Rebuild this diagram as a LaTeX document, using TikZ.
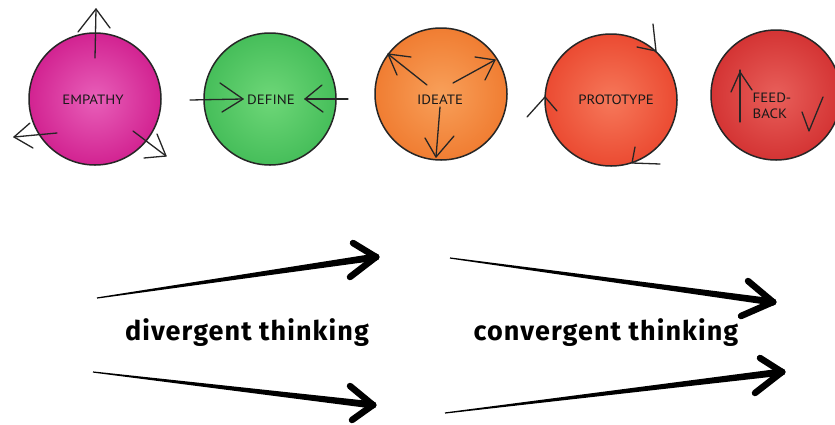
\documentclass[tikz,border=0pt]{standalone}
\usepackage{fontspec}
\setmainfont{PT Sans}
\newfontfamily\thinkfont{Fira Sans}[LetterSpace=4]
\usetikzlibrary{arrows.meta,calc}
\definecolor{empC}{RGB}{210,35,145}\definecolor{empL}{RGB}{232,95,185}
\definecolor{defC}{RGB}{70,190,90}\definecolor{defL}{RGB}{110,215,120}
\definecolor{ideC}{RGB}{240,125,50}\definecolor{ideL}{RGB}{248,160,90}
\definecolor{proC}{RGB}{235,75,50}\definecolor{proL}{RGB}{246,120,90}
\definecolor{fbkC}{RGB}{212,52,52}\definecolor{fbkL}{RGB}{232,95,90}
\newcommand\brushstroke[2]{%
  \fill ($(#1)!0.6pt!90:(#2)$) -- ($(#2)!3.6pt!-90:(#1)$) -- ($(#2)!3.6pt!90:(#1)$) -- ($(#1)!0.6pt!-90:(#2)$) -- cycle;
  \fill (#2) circle (3.6pt);}
\newcommand\wlbl[1]{\scalebox{1.1}[1]{#1}}
\tikzset{
  ball/.style={circle, minimum size=132pt, inner sep=0pt, draw=black!85, line width=1.5pt},
  lbl/.style={font=\fontsize{13.5}{11}\selectfont, text=black!90},
  sk/.style={draw=black!85, line width=1.3pt, line cap=round, line join=round},
  wing/.style={draw=black, line width=6.5pt, line cap=round, line join=round},
  think/.style={font=\thinkfont\bfseries\fontsize{27}{27}\selectfont, text=black}
}
\begin{document}
\begin{tikzpicture}[x=1pt,y=-1pt]
\useasboundingbox (0,0) rectangle (835,424);
\fill[white] (0,0) rectangle (835,424);
% circles
\node[ball, inner color=empL, outer color=empC] (emp) at (95,99) {};
\node[ball, inner color=defL, outer color=defC] (def) at (270,99) {};
\node[ball, inner color=ideL, outer color=ideC] (ide) at (441,94) {};
\node[ball, inner color=proL, outer color=proC] (pro) at (611,100) {};
\node[ball, minimum size=130pt, inner color=fbkL, outer color=fbkC] (fbk) at (776,95) {};
% labels
\node[lbl] (empT) at (93,100) {\wlbl{EMPATHY}};
\node[lbl] (defT) at (271,100) {\wlbl{DEFINE}};
\node[lbl] (ideT) at (440,100) {\wlbl{IDEATE}};
\node[lbl] (proT) at (616,100) {\wlbl{PROTOTYPE}};
\node[lbl, align=left, font=\fontsize{13.5}{16}\selectfont] (fbkT) at (772,106) {\wlbl{FEED-}\\\wlbl{BACK}};
% empathy arrows
\draw[sk] (95,58) -- (96,9); \draw[sk] (78,32) -- (96,9) -- (110,28);
\draw[sk] (57,133) -- (14,137); \draw[sk] (30,123) -- (14,137) -- (33,148);
\draw[sk] (133,131) -- (166,156); \draw[sk] (157,134) -- (166,156) -- (144,158);
% define arrows
\draw[sk] (190,100) -- (243,99); \draw[sk] (220,83) -- (243,99) -- (222,112);
\draw[sk] (348,99) -- (305,99); \draw[sk] (322,85) -- (305,99) -- (323,112);
% ideate arrows
\draw[sk] (427,85) -- (388,54); \draw[sk] (411,57) -- (388,54) -- (397,75);
\draw[sk] (453,83) -- (495,60); \draw[sk] (475,57) -- (495,60) -- (485,80);
\draw[sk] (440,107) -- (436,157); \draw[sk] (425,138) -- (436,157) -- (454,136);
% prototype arrows
\draw[sk] (653,24) -- (656,51) -- (637,47);
\draw[sk] (527,117) -- (545,97) -- (557,111);
\draw[sk] (635,147) -- (632,163) -- (660,164);
% feedback arrows
\draw[sk] (740,122) -- (740,70); \draw[sk] (731,92) -- (740,72) -- (752,90);
\draw[sk] (802,112) -- (809,131) -- (823,97);
% bottom texts
\node[think] (div) at (247,333) {divergent thinking};
\node[think] (con) at (606,333) {convergent thinking};
% brush arrows
\coordinate (a1s) at (97,298); \coordinate (a1e) at (376,257);
\coordinate (a2s) at (93,372); \coordinate (a2e) at (373,405);
\coordinate (a3s) at (450,258); \coordinate (a3e) at (773,302);
\coordinate (a4s) at (445,413); \coordinate (a4e) at (782,372);
\brushstroke{a1s}{a1e}
\brushstroke{a2s}{a2e}
\brushstroke{a3s}{a3e}
\brushstroke{a4s}{a4e}
\draw[wing] (353,243) -- (a1e) -- (350,277);
\draw[wing] (350,386) -- (a2e) -- (352,420);
\draw[wing] (748,281) -- (a3e) -- (741,316);
\draw[wing] (760,358) -- (a4e) -- (755,393);
\end{tikzpicture}
\end{document}
